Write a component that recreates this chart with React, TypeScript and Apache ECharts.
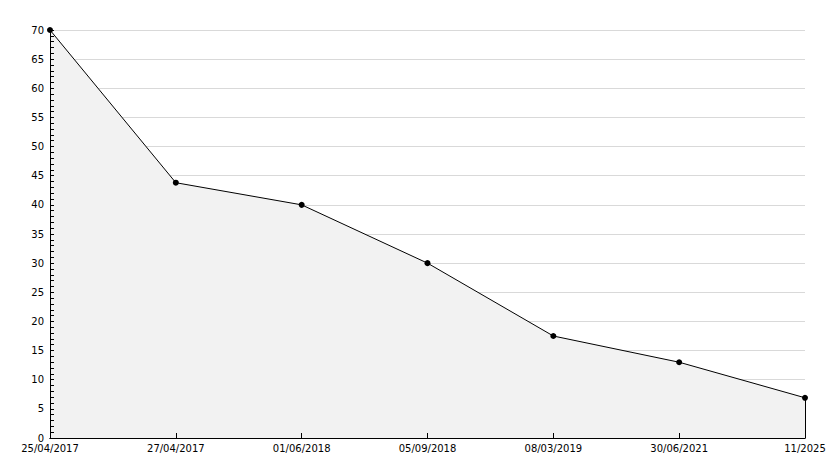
import React, { useEffect, useRef } from "react";
import * as echarts from "echarts";

const categories = ["25/04/2017", "27/04/2017", "01/06/2018", "05/09/2018", "08/03/2019", "30/06/2021", "11/2025"];
const values = [70, 43.8, 40, 30, 17.5, 13, 6.9];

export default function App() {
  const ref = useRef<HTMLDivElement>(null);
  useEffect(() => {
    const chart = echarts.init(ref.current!, null, { renderer: "svg" });
    const lastIdx = categories.length - 1;
    chart.setOption({
      animation: false,
      backgroundColor: "#ffffff",
      grid: { left: 50, right: 29, top: 30, bottom: 30 },
      xAxis: [
        {
          type: "category",
          data: categories,
          boundaryGap: false,
          z: 0,
          axisLine: { lineStyle: { color: "#000", width: 1 } },
          axisTick: { show: false },
          axisLabel: { color: "#000", fontFamily: "DejaVu Sans", fontSize: 10, margin: 5, interval: 0 },
          splitLine: { show: false },
        },
        {
          type: "category",
          data: categories,
          boundaryGap: false,
          position: "bottom",
          z: 10,
          axisLine: { show: true, lineStyle: { color: "#000", width: 1 } },
          axisTick: { show: true, inside: true, length: 5, interval: 0, lineStyle: { color: "#000" } },
          axisLabel: { show: false },
          splitLine: { show: false },
        },
      ],
      yAxis: [
        {
          type: "value",
          min: 0,
          max: 70,
          interval: 5,
          position: "left",
          z: 0,
          axisLine: { show: true, lineStyle: { color: "#000", width: 1 } },
          axisTick: { show: false },
          axisLabel: { color: "#000", fontFamily: "DejaVu Sans", fontSize: 10, margin: 6 },
          splitLine: { show: true, lineStyle: { color: "#d9d9d9", width: 1 } },
        },
        {
          type: "value",
          min: 0,
          max: 70,
          interval: 1,
          position: "left",
          z: 10,
          axisLine: { show: true, lineStyle: { color: "#000", width: 1 } },
          axisTick: { show: true, inside: true, length: 4, lineStyle: { color: "#000" } },
          axisLabel: { show: false },
          splitLine: { show: false },
        },
      ],
      series: [
        {
          type: "line",
          xAxisIndex: 0,
          yAxisIndex: 0,
          data: values,
          symbol: "circle",
          symbolSize: 6,
          z: 2,
          itemStyle: { color: "#000" },
          lineStyle: { color: "#000", width: 1 },
          areaStyle: { color: "#f2f2f2", opacity: 1 },
          markLine: {
            silent: true,
            symbol: "none",
            label: { show: false },
            lineStyle: { color: "#000", width: 1, type: "solid" },
            data: [[{ coord: [lastIdx, 0] }, { coord: [lastIdx, values[lastIdx]] }]],
          },
        },
      ],
    });
    return () => chart.dispose();
  }, []);
  return <div ref={ref} style={{ width: 834, height: 468, position: "absolute", left: 0, top: 0 }} />;
}
